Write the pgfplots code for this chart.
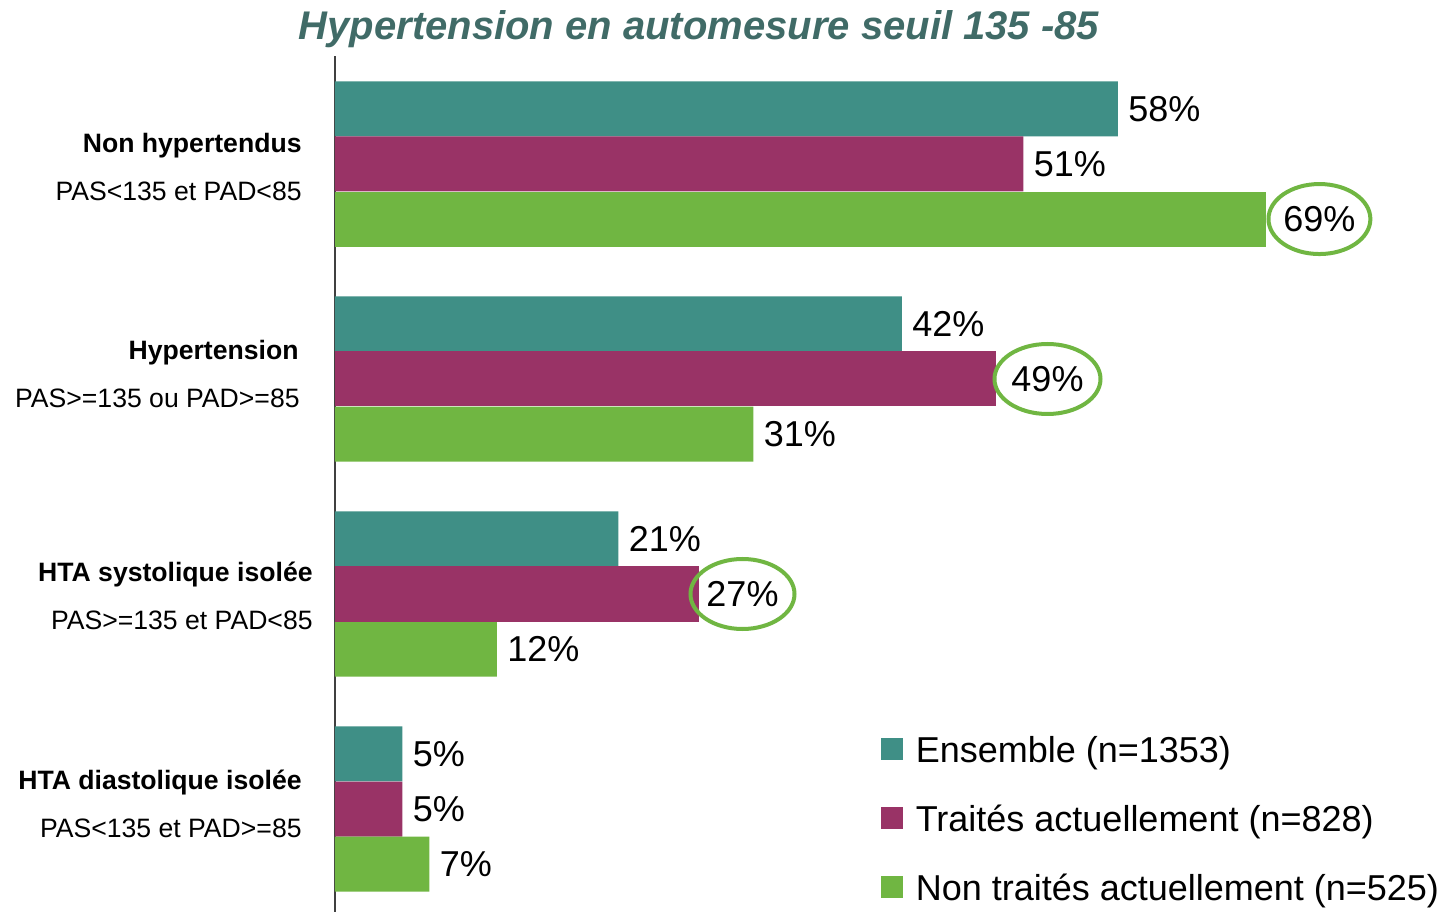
\documentclass[border=0pt]{standalone}
\usepackage{pgfplots}
\pgfplotsset{compat=1.18}
\usepackage{fontspec}
\setmainfont{Liberation Sans}
\usetikzlibrary{shapes.geometric}

\definecolor{ensemble}{RGB}{63,143,134}
\definecolor{traites}{RGB}{153,51,102}
\definecolor{nontraites}{RGB}{112,182,66}
\definecolor{titre}{RGB}{64,107,103}

\begin{document}
\begin{tikzpicture}
\begin{axis}[
    scale only axis,
    width=540pt, height=427.85pt,
    xmin=0, xmax=80,
    ymin=0.5, ymax=4.48,
    y dir=reverse,
    axis y line*=left,
    axis x line=none,
    y axis line style={line width=1pt, color=black!75},
    xtick=\empty,
    % label blocks sit slightly off the group centres in the reference
    ytick={1.014,1.977,3.009,3.977},
    yticklabels={
      {\textbf{Non hypertendus}\hspace*{5.5pt}\\PAS<135 et PAD<85\hspace*{5.5pt}},
      {\textbf{Hypertension}\hspace*{7pt}\\PAS>=135 ou PAD>=85\hspace*{6.5pt}},
      {\textbf{HTA systolique isolée}\\PAS>=135 et PAD<85},
      {\textbf{HTA diastolique isolée}\hspace*{5.5pt}\\PAS<135 et PAD>=85\hspace*{5.5pt}}},
    major tick length=0pt,
    yticklabel style={align=right, font=\fontsize{13.3}{24}\selectfont, inner sep=0pt, xshift=-11pt},
    xbar, bar width=27.5pt,
    /pgf/number format/assume math mode=true,
    point meta=x,
    nodes near coords={\pgfmathprintnumber{\pgfplotspointmeta}\%},
    every node near coord/.append style={font=\fontsize{18}{20}\selectfont, anchor=west, inner sep=0pt, xshift=5pt, text=black},
    title={Hypertension en automesure seuil 135 -85},
    title style={at={(axis description cs:0.337,1.0193)}, anchor=base, yshift=-6pt, inner sep=0pt,
      font=\fontsize{20}{24}\selectfont\bfseries\itshape, text=titre},
    legend style={at={(axis cs:40.4,3.66)}, anchor=north west, draw=none, fill=none,
      font=\fontsize{18}{20}\selectfont, row sep=19.75pt, column sep=6.5pt,
      inner sep=0pt, nodes={inner sep=0pt}},
    legend cell align=left,
    legend image code/.code={\fill[#1] (0pt,-4.5pt) rectangle (11pt,6.5pt);},
]

% Ensemble
\addplot[fill=ensemble, draw=none, bar shift=0pt]
    coordinates {(58,0.744) (42,1.744) (21,2.744) (5,3.744)};

% Traites actuellement
\addplot[fill=traites, draw=none, bar shift=0pt]
    coordinates {(51,1) (5,4)};

% Non traites actuellement
\addplot[fill=nontraites, draw=none, bar shift=0pt]
    coordinates {(31,2.256) (12,3.256) (7,4.256)};

% values circled in the reference
\addplot[fill=traites, draw=none, bar shift=0pt, forget plot,
    every node near coord/.append style={ellipse, draw=nontraites, line width=2pt,
      minimum width=53pt, minimum height=35pt, xshift=-7pt}]
    coordinates {(49,2)};
\addplot[fill=traites, draw=none, bar shift=0pt, forget plot,
    every node near coord/.append style={ellipse, draw=nontraites, line width=2pt,
      minimum width=52pt, minimum height=35pt, xshift=-10.5pt}]
    coordinates {(27,3)};
\addplot[fill=nontraites, draw=none, bar shift=0pt, forget plot,
    every node near coord/.append style={ellipse, draw=nontraites, line width=2pt,
      minimum width=49pt, minimum height=35pt, xshift=-5pt}]
    coordinates {(69,1.256)};

\legend{Ensemble (n=1353), Traités actuellement (n=828), Non traités actuellement (n=525)}

\coordinate (bl) at (axis description cs:0,0);
\end{axis}
\pgfresetboundingbox
\path ([shift={(-167.5pt,-0.4pt)}]bl) rectangle ([shift={(557.5pt,456.1pt)}]bl);
\end{tikzpicture}
\end{document}
